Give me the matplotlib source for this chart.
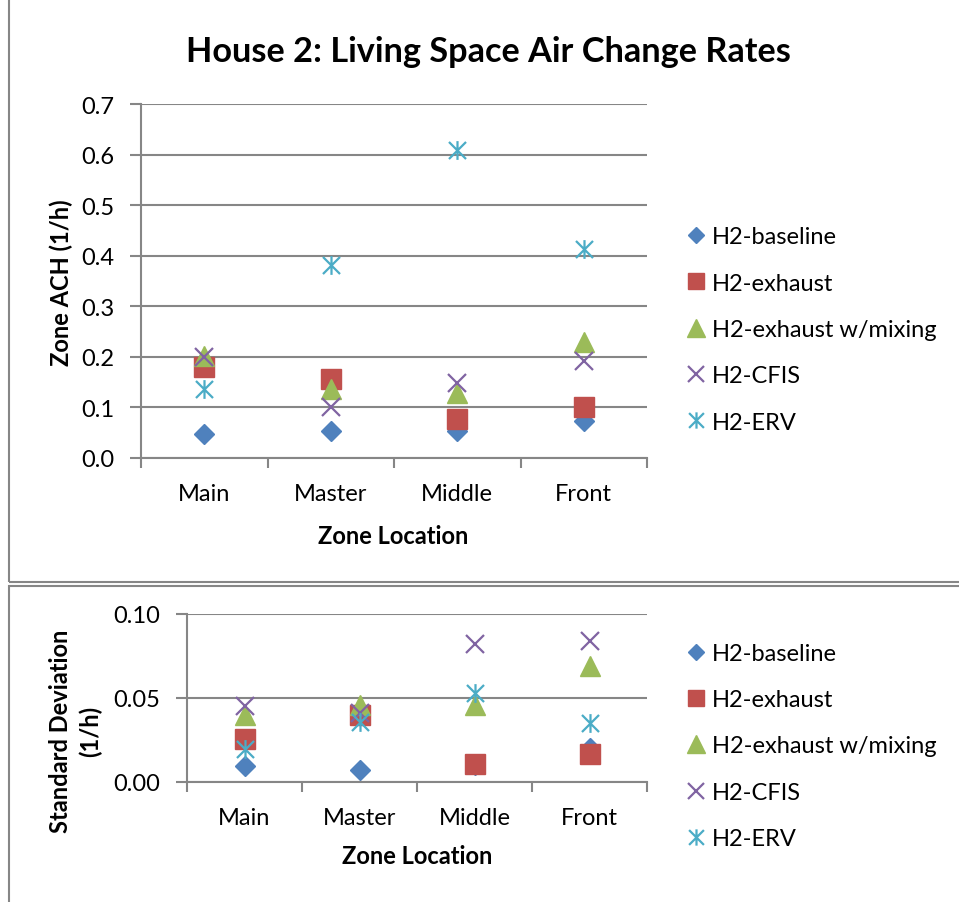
import numpy as np
import matplotlib
matplotlib.use("Agg")
import matplotlib.pyplot as plt
from matplotlib.path import Path
from matplotlib.patches import Rectangle

plt.rcParams['font.family'] = ['Lato', 'DejaVu Sans']

zones = ["Main", "Master", "Middle", "Front"]
series = ["H2-baseline", "H2-exhaust", "H2-exhaust w/mixing", "H2-CFIS", "H2-ERV"]

# zone ACH (1/h)
ach_baseline = [0.048, 0.053, 0.053, 0.073]
ach_exhaust = [0.179, 0.157, 0.078, 0.101]
ach_mixing = [0.202, 0.136, 0.129, 0.229]
ach_cfis = [0.200, 0.101, 0.149, 0.191]
ach_erv = [0.137, 0.382, 0.610, 0.414]

# standard deviation (1/h)
sd_baseline = [0.0095, 0.0072, 0.0100, 0.0200]
sd_exhaust = [0.0254, 0.0400, 0.0105, 0.0165]
sd_mixing = [0.0400, 0.0460, 0.0460, 0.0690]
sd_cfis = [0.0450, 0.0410, 0.0820, 0.0840]
sd_erv = [0.0195, 0.0360, 0.0530, 0.0350]

colors = ["#4F81BD", "#C0504D", "#9BBB59", "#8064A2", "#4BACC6"]
grey = "#868686"
FS = 17

# excel style asterisk: x plus vertical bar
ast = Path([(-0.5, -0.5), (0.5, 0.5), (-0.5, 0.5), (0.5, -0.5), (0, -0.55), (0, 0.55)],
           [Path.MOVETO, Path.LINETO, Path.MOVETO, Path.LINETO, Path.MOVETO, Path.LINETO])
styles = [
    dict(marker="D", ms=9.8),
    dict(marker="s", ms=14),
    dict(marker="^", ms=14.5),
    dict(marker="x", ms=13.5, mew=1.6),
    dict(marker=ast, ms=13.5, mew=1.6),
]

fig = plt.figure(figsize=(9.59, 9.03), dpi=100)

# chart borders
fig.patches.append(Rectangle((9 / 959, 1 - 583 / 903), 1, 583 / 903 + 0.01, transform=fig.transFigure,
                             fill=False, ec=grey, lw=1.5))
fig.patches.append(Rectangle((9 / 959, -0.01), 1, 1 - 587 / 903 + 0.01, transform=fig.transFigure,
                             fill=False, ec=grey, lw=1.5))


def setup(ax, ymax, step, fmt):
    x = np.arange(1, len(zones) + 1)
    ax.set_xlim(0.5, len(zones) + 0.5)
    ax.set_ylim(0, ymax)
    ax.set_xticks(np.arange(0.5, len(zones) + 1))
    ax.set_xticklabels([])
    ax.set_xticks(x, minor=True)
    ax.set_xticklabels(zones, minor=True)
    ax.set_yticks(np.arange(0, ymax + step / 2, step))
    ax.yaxis.set_major_formatter(matplotlib.ticker.FormatStrFormatter(fmt))
    ax.tick_params(axis="x", which="major", length=7, width=1.5, color=grey)
    ax.tick_params(axis="x", which="minor", length=0, pad=18, labelsize=FS)
    ax.tick_params(axis="y", length=8, width=1.5, color=grey, pad=11, labelsize=FS)
    for s in ["top", "right"]:
        ax.spines[s].set_visible(False)
    for s in ["left", "bottom"]:
        ax.spines[s].set_color(grey)
        ax.spines[s].set_linewidth(1.5)
    ax.yaxis.grid(True, color=grey, lw=1.5)
    ax.set_axisbelow(True)
    return x


def draw(ax, x, data):
    for vals, col, st, name in zip(data, colors, styles, series):
        ax.plot(x, vals, ls="none", color=col, mec=col, label=name, clip_on=False, **st)


def legend(ax, yc):
    ax.legend(loc="center left", bbox_to_anchor=(687 / 959, 1 - yc / 903), bbox_transform=fig.transFigure,
              frameon=False, fontsize=FS, handlelength=0.8, handletextpad=0.25, labelspacing=1.07,
              borderpad=0, borderaxespad=0, markerscale=0.87)


ax1 = fig.add_axes([141 / 959, 1 - 459 / 903, 506 / 959, 354 / 903])
x = setup(ax1, 0.7, 0.1, "%.1f")
draw(ax1, x, [ach_baseline, ach_exhaust, ach_mixing, ach_cfis, ach_erv])
legend(ax1, 330.5)
fig.text(61 / 959, 1 - 283 / 903, "Zone ACH (1/h)", rotation=90, ha="center", va="center",
         fontsize=FS, fontweight="bold")
fig.text(393 / 959, 1 - 537 / 903, "Zone Location", ha="center", va="center", fontsize=FS, fontweight="bold")

ax2 = fig.add_axes([187 / 959, 1 - 783 / 903, 460 / 959, 168 / 903])
x = setup(ax2, 0.1, 0.05, "%.2f")
draw(ax2, x, [sd_baseline, sd_exhaust, sd_mixing, sd_cfis, sd_erv])
legend(ax2, 747)
fig.text(76 / 959, 1 - 731 / 903, "Standard Deviation\n(1/h)", rotation=90, ha="center", va="center",
         fontsize=FS, fontweight="bold", linespacing=1.35)
fig.text(417 / 959, 1 - 857 / 903, "Zone Location", ha="center", va="center", fontsize=FS, fontweight="bold")

fig.text(488 / 959, 1 - 52 / 903, "House 2: Living Space Air Change Rates", ha="center", va="center",
         fontsize=24.7, fontweight="bold")

fig.savefig("out.png", dpi=100)
